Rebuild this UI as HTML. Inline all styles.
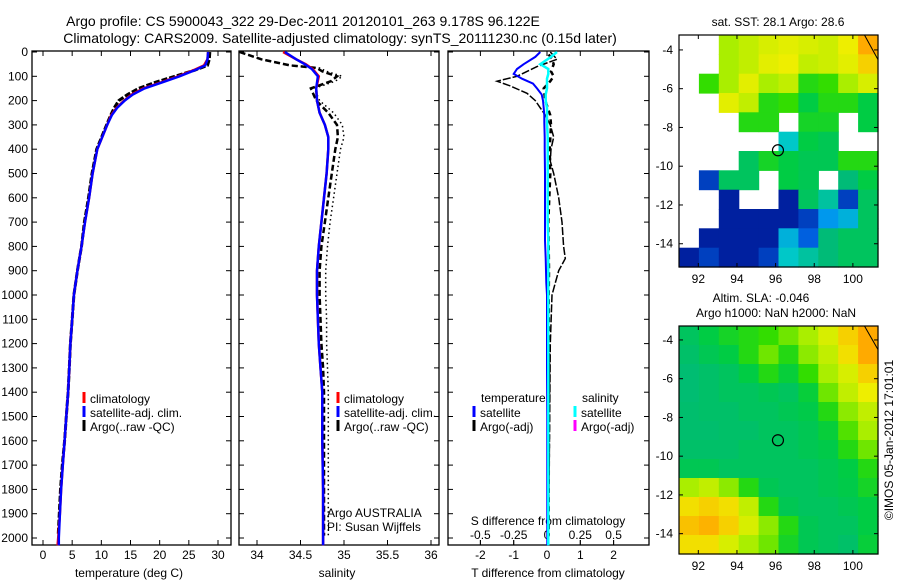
<!DOCTYPE html>
<html><head><meta charset="utf-8"><style>
body{margin:0;background:#fff;}
svg{display:block;font-family:"Liberation Sans",sans-serif;}
</style></head><body>
<svg id="chart" width="900" height="580" viewBox="0 0 900 580" xmlns="http://www.w3.org/2000/svg">
<rect width="900" height="580" fill="#fff"/>
<text x="303" y="26" font-size="14" text-anchor="middle">Argo profile: CS 5900043_322 29-Dec-2011 20120101_263 9.178S 96.122E</text>
<text x="340" y="43" font-size="14" text-anchor="middle">Climatology: CARS2009. Satellite-adjusted climatology: synTS_20111230.nc (0.15d later)</text>
<text x="778" y="26" font-size="12" text-anchor="middle">sat. SST: 28.1 Argo: 28.6</text>
<text x="761" y="302" font-size="12" text-anchor="middle">Altim. SLA: -0.046</text>
<text x="776" y="317" font-size="12" text-anchor="middle">Argo h1000: NaN h2000: NaN</text>
<text transform="translate(893,440) rotate(-90)" font-size="12" text-anchor="middle">©IMOS 05-Jan-2012 17:01:01</text>
<g id="plots"></g>
</svg>
<script>
// ---------- data ----------
const depthTicks = [0,100,200,300,400,500,600,700,800,900,1000,1100,1200,1300,1400,1500,1600,1700,1800,1900,2000];
const tempTicks = [0,5,10,15,20,25,30];
const salTicks = [34,34.5,35,35.5,36];
const salTickLabels = ["34","34.5","35","35.5","36"];
const tdiffTicks = [-2,-1,0,1,2];
const sdiffTicks = [-0.5,-0.25,0,0.25,0.5];
const sdiffTickLabels = ["-0.5","-0.25","0","0.25","0.5"];

const climDepth = [0,30,55,75,100,125,150,175,200,230,260,300,400,500,600,700,800,900,1000,1100,1200,1300,1400,1500,1600,1700,1800,1900,2000,2030];
const climTemp  = [28.3,28.2,27.6,25.8,23.2,20.2,17.2,15.2,13.9,12.6,11.7,11.0,9.3,8.5,7.9,7.2,6.6,5.9,5.3,5.0,4.7,4.5,4.3,4.0,3.7,3.4,3.1,2.9,2.6,2.5];
const satTemp   = [28.3,28.2,27.8,26.0,23.4,20.4,17.4,15.4,14.0,12.7,11.8,11.0,9.3,8.5,7.9,7.2,6.6,5.9,5.3,5.0,4.7,4.5,4.3,4.0,3.7,3.4,3.1,2.9,2.7,2.7];
const argoDepth = [0,30,55,75,100,125,150,175,200,230,260,300,400,500,600,700,800,900,1000,1100,1200,1300,1400,1500,1600,1700,1800,1900,1990];
const argoTemp  = [28.6,28.5,28.2,26.0,22.6,19.2,16.4,14.5,13.0,12.2,11.6,10.9,9.2,8.4,7.8,7.1,6.6,5.9,5.3,5.0,4.7,4.5,4.3,4.0,3.7,3.3,3.0,2.8,2.6];

const salDepth = [0,30,50,70,100,150,200,250,300,350,400,500,600,700,800,900,1000,1100,1200,1300,1400,1500,1600,1800,2000,2030];
const climSal  = [34.30,34.45,34.56,34.64,34.71,34.68,34.69,34.72,34.78,34.82,34.82,34.80,34.77,34.74,34.71,34.69,34.69,34.70,34.71,34.73,34.75,34.75,34.75,34.76,34.76,34.76];
const satSal   = [34.32,34.45,34.55,34.63,34.70,34.68,34.69,34.72,34.78,34.82,34.82,34.80,34.77,34.74,34.71,34.69,34.69,34.70,34.71,34.73,34.75,34.75,34.75,34.76,34.76,34.76];
const argoSalDepth = [0,30,55,66,80,100,120,150,200,250,300,350,400,500,600,700,800,900,1000,1100,1200,1300,1400,1500,1600,1800,1990];
const argoSal      = [33.80,34.05,34.38,34.69,34.75,34.92,34.85,34.62,34.68,34.82,34.92,34.93,34.90,34.86,34.82,34.78,34.74,34.72,34.72,34.73,34.74,34.76,34.77,34.77,34.77,34.77,34.77];
const rawSal       = [33.80,34.05,34.40,34.72,34.80,34.98,34.90,34.66,34.72,34.88,34.98,35.00,34.96,34.92,34.88,34.84,34.81,34.79,34.79,34.80,34.80,34.81,34.82,34.82,34.82,34.82,34.82];

const diffDepth = [0,20,50,70,90,110,130,150,175,200,230,260,290,350,400,500,600,700,775,850,900,950,1000,1100,1300,1500,1800,2030];
const satTdiff  = [-0.2,-0.35,-0.7,-0.9,-1.0,-0.75,-0.42,-0.3,-0.16,-0.12,-0.1,-0.08,-0.08,-0.07,-0.07,-0.06,-0.06,-0.06,-0.06,-0.04,-0.03,-0.02,0,0,0,0.01,0.01,0.01];
const satSdiff  = [0.075,0.03,-0.05,0.01,0.01,0.0,0.0,0.0,-0.01,-0.01,0.0,0.0,0.0,0.005,0.005,0.005,0.005,0.005,0.01,0.01,0.01,0.01,0.01,0.01,0.01,0.01,0.01,0.01];
const argoTdiffDepth = [0,30,60,80,100,120,140,170,200,230,260,300,350,400,450,500,600,700,800,850,900,950,1000,1200,1500,1800,1990];
const argoTdiff      = [0.1,0.3,-0.3,-0.6,-0.9,-1.5,-1.1,-0.6,-0.35,-0.2,-0.05,0.1,0.2,0.12,0.1,0.2,0.35,0.45,0.5,0.55,0.35,0.25,0.15,0.1,0.08,0.06,0.05];
const argoSdiffDepth = [10,30,50,80,100,120,150,200,260,300,400,500,600,700,800,900,1000,1200,1500,1800,1990];
const argoSdiff      = [0.05,0.15,0.2,0.12,0.2,0.1,-0.1,-0.05,0.1,0.12,0.08,0.1,0.07,0.04,0.05,0.06,0.05,0.06,0.06,0.05,0.05];

const sstGrid = [
 [null,null,0.70,0.72,0.74,0.75,0.74,0.73,0.76,0.85],
 [null,null,0.70,0.72,0.75,0.76,0.72,0.73,0.75,0.80],
 [null,0.62,0.70,0.75,0.70,0.72,0.60,0.62,0.70,0.74],
 [null,null,0.75,0.72,0.60,0.62,0.55,0.60,0.60,0.55],
 [null,null,null,0.60,0.60,null,0.58,0.58,null,0.55],
 [null,null,null,null,null,0.35,0.55,0.52,null,null],
 [null,null,null,0.50,0.58,0.55,0.52,0.52,0.60,0.60],
 [null,0.10,0.50,0.50,null,0.55,0.52,null,0.45,0.55],
 [null,null,0.05,null,null,0.05,0.50,0.40,0.10,0.50],
 [null,null,0.05,0.05,0.05,0.05,0.10,0.25,0.30,0.50],
 [null,0.05,0.05,0.05,0.05,0.30,0.15,0.45,0.50,0.50],
 [0.05,0.10,0.05,0.05,0.10,0.35,0.40,0.45,0.50,0.50]];
const slaGrid = [
 [0.50,0.55,0.58,0.60,0.62,0.66,0.70,0.74,0.80,0.85],
 [0.48,0.52,0.55,0.60,0.66,0.60,0.68,0.72,0.78,0.85],
 [0.46,0.48,0.50,0.55,0.60,0.56,0.62,0.70,0.74,0.80],
 [0.46,0.48,0.50,0.50,0.52,0.50,0.56,0.66,0.72,0.76],
 [0.47,0.48,0.48,0.50,0.50,0.52,0.54,0.60,0.68,0.72],
 [0.47,0.47,0.48,0.48,0.50,0.50,0.52,0.56,0.64,0.70],
 [0.48,0.48,0.48,0.50,0.50,0.50,0.52,0.54,0.60,0.66],
 [0.52,0.52,0.50,0.50,0.50,0.50,0.50,0.52,0.55,0.60],
 [0.70,0.72,0.68,0.60,0.52,0.50,0.50,0.52,0.54,0.58],
 [0.78,0.80,0.78,0.72,0.60,0.52,0.50,0.50,0.52,0.55],
 [0.82,0.84,0.80,0.74,0.68,0.60,0.52,0.50,0.50,0.55],
 [0.78,0.78,0.74,0.70,0.66,0.58,0.52,0.50,0.48,0.56]];
const lonTicks = [92,94,96,98,100];
const latTicks = [-4,-6,-8,-10,-12,-14];
const argoLon = 96.122, argoLat = -9.178;

// ---------- helpers ----------
const NS="http://www.w3.org/2000/svg";
const root=document.getElementById('plots');
function el(tag,attrs,parent){const e=document.createElementNS(NS,tag);for(const k in attrs)e.setAttribute(k,attrs[k]);(parent||root).appendChild(e);return e;}
function txt(s,x,y,size,anchor,parent){const t=el('text',{x:x,y:y,'font-size':size,'text-anchor':anchor||'middle'},parent);t.textContent=s;return t;}
const TOP=51,BOT=545;
const yD=d=>52+d*0.243;
function lin(d0,d1,p0,p1){return v=>p0+(v-d0)*(p1-p0)/(d1-d0);}
function path(xs,ds,xf,color,w,dash,name){
  const p=el('path',{d:xs.map((v,i)=>(i?'L':'M')+xf(v).toFixed(1)+','+yD(ds[i]).toFixed(1)).join(''),fill:'none',stroke:color,'stroke-width':w});
  if(dash)p.setAttribute('stroke-dasharray',dash);
  
  
  return p;
}
function box(x0,x1,name){
  const r=el('rect',{x:x0,y:TOP,width:x1-x0,height:BOT-TOP,fill:'none',stroke:'#000','stroke-width':1.3});
  
  
  depthTicks.forEach(d=>{el('line',{x1:x0,x2:x0+5,y1:yD(d),y2:yD(d),stroke:'#000'});el('line',{x1:x1,x2:x1-5,y1:yD(d),y2:yD(d),stroke:'#000'});});
}
function xticks(vals,labels,xf,ty,name){
  vals.forEach((v,i)=>{
    el('line',{x1:xf(v),x2:xf(v),y1:BOT,y2:BOT-5,stroke:'#000'});
    el('line',{x1:xf(v),x2:xf(v),y1:TOP,y2:TOP+5,stroke:'#000'});
    const t=txt(labels[i],xf(v),ty,12);
    
    
  });
}
function legendItem(x,y,color,label,name){
  el('line',{x1:x,x2:x,y1:y-11,y2:y,stroke:color,'stroke-width':3});
  const t=txt(label,x+6,y,12,'start');
  
  
}

// ---------- panel 1: temperature ----------
const xT=lin(0,30,43,218);
box(32,231,'temperature-panel');
depthTicks.forEach(d=>{const t=txt(String(d),28,yD(d)+4,12,'end');});
xticks(tempTicks,tempTicks.map(String),xT,559,'temperature-tick-label');
path(argoTemp,argoDepth,xT,'#000',3,'6 2','argo-temperature-line');
path(climTemp,climDepth,xT,'#f00',2.5,null,'climatology-temperature-line');
path(satTemp,climDepth,xT,'#00f',2.5,null,'satellite-temperature-line');
txt('temperature (deg C)',129,577,12);
legendItem(84,403,'#f00','climatology','legend-climatology');
legendItem(84,417,'#00f','satellite-adj. clim.','legend-satellite');
legendItem(84,431,'#000','Argo(..raw -QC)','legend-argo');

// ---------- panel 2: salinity ----------
const xS=lin(34,36,257,431);
box(239,439,'salinity-panel');
xticks(salTicks,salTickLabels,xS,559,'salinity-tick-label');
path(rawSal,argoSalDepth,xS,'#000',1.5,'1.5 3','argo-raw-salinity-line');
path(argoSal,argoSalDepth,xS,'#000',2.5,'6 3','argo-salinity-line');
path(climSal,salDepth,xS,'#f00',2.5,null,'climatology-salinity-line');
path(satSal,salDepth,xS,'#00f',2.5,null,'satellite-salinity-line');
txt('salinity',337,577,12);
legendItem(338,403,'#f00','climatology','legend-climatology-2');
legendItem(338,417,'#00f','satellite-adj. clim.','legend-satellite-2');
legendItem(338,431,'#000','Argo(..raw -QC)','legend-argo-2');
txt('Argo AUSTRALIA',327,517,12,'start');
txt('PI: Susan Wijffels',327,531,12,'start');

// ---------- panel 3: differences ----------
const xTd=lin(0,1,547,580.3);
const xSd=lin(0,0.25,547,580.3);
box(448,649,'difference-panel');
xticks(tdiffTicks,tdiffTicks.map(String),xTd,559,'tdiff-tick-label');
sdiffTicks.forEach((v,i)=>{el('line',{x1:xSd(v),x2:xSd(v),y1:BOT,y2:BOT-5,stroke:'#000'});const t=txt(sdiffTickLabels[i],xSd(v),539,12);});
txt('S difference from climatology',548,525,12);
txt('T difference from climatology',548,577,12);
path(argoSdiff,argoSdiffDepth,xTd,'#000',2.5,'5 4','argo-sdiff-line');
path(argoTdiff,argoTdiffDepth,xTd,'#000',1.5,'8 2','argo-tdiff-line');
path(satTdiff,diffDepth,xTd,'#00f',2,null,'satellite-tdiff-line');
path(satSdiff,diffDepth,xSd,'#0ff',2.5,null,'satellite-sdiff-line');
txt('temperature',481,402,12,'start');
txt('salinity',582,402,12,'start');
legendItem(474,417,'#00f','satellite','legend-tdiff-satellite');
legendItem(474,431,'#000','Argo(-adj)','legend-tdiff-argo');
legendItem(575,417,'#0ff','satellite','legend-sdiff-satellite');
legendItem(575,431,'#f0f','Argo(-adj)','legend-sdiff-argo');

// ---------- maps ----------
const stops=[[0,[0,0,127]],[0.2,[0,128,255]],[0.35,[0,200,200]],[0.45,[0,187,119]],[0.55,[0,204,68]],[0.62,[51,221,0]],[0.7,[170,238,0]],[0.76,[238,238,0]],[0.85,[255,170,0]],[1,[187,51,0]]];
function cmap(v){for(let i=1;i<stops.length;i++){if(v<=stops[i][0]){const a=stops[i-1],b=stops[i],f=(v-a[0])/(b[0]-a[0]);return 'rgb('+a[1].map((c,k)=>Math.round(c+(b[1][k]-c)*f)).join(',')+')';}}return 'rgb(187,51,0)';}
function drawMap(grid,top,bot,latTopV,latBotV,name){
  const L=679,R=878;
  const xL=lin(91,101.3,L,R), yL=lin(latTopV,latBotV,top,bot);
  const g=el('g',{});
  
  
  const nr=grid.length,nc=grid[0].length;
  const dLon=(101.3-91)/nc,dLat=(latTopV-latBotV)/nr;
  grid.forEach((row,r)=>row.forEach((v,c)=>{
    if(v===null)return;
    const x0=xL(91+c*dLon),x1=xL(91+(c+1)*dLon),y0=yL(latTopV-r*dLat),y1=yL(latTopV-(r+1)*dLat);
    const cell=el('rect',{x:x0.toFixed(1),y:y0.toFixed(1),width:(x1-x0+0.6).toFixed(1),height:(y1-y0+0.6).toFixed(1),fill:cmap(v)},g);
    
    
  }));
  el('rect',{x:L,y:top,width:R-L,height:bot-top,fill:'none',stroke:'#000','stroke-width':1.2},g);
  lonTicks.forEach(v=>{el('line',{x1:xL(v),x2:xL(v),y1:bot,y2:bot-4,stroke:'#000'},g);el('line',{x1:xL(v),x2:xL(v),y1:top,y2:top+4,stroke:'#000'},g);const t=txt(String(v),xL(v),bot+16,12,'middle',g);});
  latTicks.forEach(v=>{el('line',{x1:L,x2:L+4,y1:yL(v),y2:yL(v),stroke:'#000'},g);el('line',{x1:R,x2:R-4,y1:yL(v),y2:yL(v),stroke:'#000'},g);const t=txt(String(v),L-6,yL(v)+4,12,'end',g);});
  el('path',{d:'M'+xL(100.6)+','+top+' L'+R+','+yL(-4.5),stroke:'#000',fill:'none','stroke-width':1},g);
  const c=el('circle',{cx:xL(argoLon),cy:yL(argoLat),r:5.5,fill:'none',stroke:'#000','stroke-width':1.2},g);
  
  
}
drawMap(sstGrid,35,267,-3.23,-15.2,'sst-map');
drawMap(slaGrid,326,554,-3.28,-15.05,'sla-map');
</script>
</body></html>
